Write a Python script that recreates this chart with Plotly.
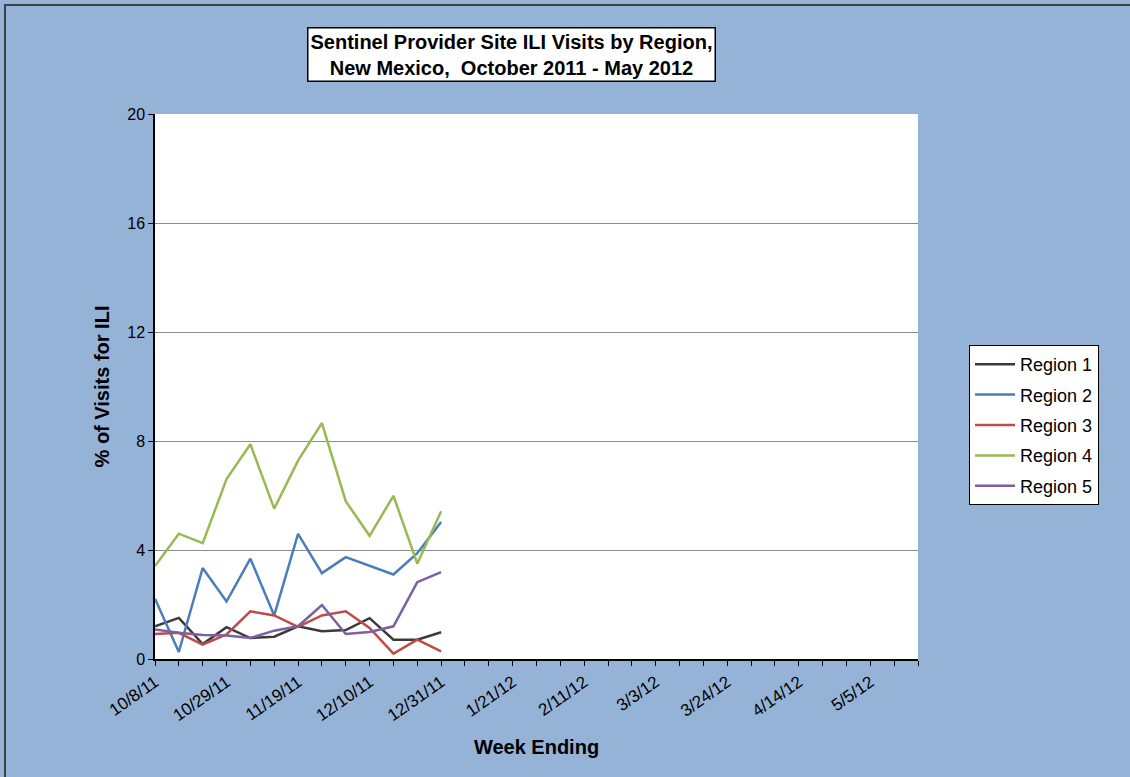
import plotly.graph_objects as go

weeks = ["10/8/11", "10/15/11", "10/22/11", "10/29/11", "11/5/11", "11/12/11", "11/19/11",
         "11/26/11", "12/3/11", "12/10/11", "12/17/11", "12/24/11", "12/31/11", "1/7/12",
         "1/14/12", "1/21/12", "1/28/12", "2/4/12", "2/11/12", "2/18/12", "2/25/12", "3/3/12",
         "3/10/12", "3/17/12", "3/24/12", "3/31/12", "4/7/12", "4/14/12", "4/21/12", "4/28/12",
         "5/5/12", "5/12/12", "5/19/12"]
labeled_weeks = ["10/8/11", "10/29/11", "11/19/11", "12/10/11", "12/31/11", "1/21/12",
                 "2/11/12", "3/3/12", "3/24/12", "4/14/12", "5/5/12"]

region1 = [1.20, 1.51, 0.55, 1.17, 0.77, 0.82, 1.20, 1.02, 1.06, 1.50, 0.71, 0.71, 0.98]
region2 = [2.21, 0.26, 3.34, 2.11, 3.68, 1.60, 4.59, 3.15, 3.74, 3.41, 3.10, 3.88, 5.03]
region3 = [0.92, 0.96, 0.53, 0.90, 1.75, 1.60, 1.18, 1.60, 1.75, 1.14, 0.20, 0.71, 0.28]
region4 = [3.41, 4.60, 4.25, 6.60, 7.88, 5.52, 7.28, 8.66, 5.79, 4.52, 5.99, 3.50, 5.42]
region5 = [1.08, 0.96, 0.88, 0.86, 0.77, 1.04, 1.20, 1.98, 0.92, 0.99, 1.20, 2.82, 3.19]

series = [("Region 1", region1, "#3a3a3a"),
          ("Region 2", region2, "#4A7EBB"),
          ("Region 3", region3, "#BE4B48"),
          ("Region 4", region4, "#98B954"),
          ("Region 5", region5, "#7D60A0")]

FONT = "Liberation Sans, Arial, sans-serif"

fig = go.Figure()
for name, vals, color in series:
    fig.add_trace(go.Scatter(x=weeks[:len(vals)], y=vals, mode="lines", name=name,
                             legendgroup=name,
                             line=dict(color=color, width=2.5)))

L, R, T, B = 155, 212, 114, 118
W, H = 1130, 777
pw, ph = W - L - R, H - T - B

def px_x(p):
    return (p - L) / pw

def px_y(p):
    return (H - B - p) / ph

fig.update_layout(
    width=W, height=H,
    margin=dict(l=L, r=R, t=T, b=B),
    paper_bgcolor="#95B3D7",
    plot_bgcolor="white",
    font=dict(family=FONT, color="black", size=16),
    showlegend=True,
    legend=dict(x=px_x(969), y=px_y(345), xanchor="left", yanchor="top",
                bgcolor="white", bordercolor="black", borderwidth=1,
                font=dict(size=18, family=FONT), tracegroupgap=4,
                itemwidth=40),
    xaxis=dict(type="category", categoryorder="array", categoryarray=weeks,
               range=[0, len(weeks) - 1],
               tickvals=weeks,
               ticktext=[w if w in labeled_weeks else "" for w in weeks],
               tickangle=-35, ticks="outside", ticklen=5, tickcolor="black",
               showline=True, linecolor="black", linewidth=1.5,
               showgrid=False, zeroline=False,
               tickfont=dict(size=17, family=FONT),
               title=dict(text="<b>Week Ending</b>", font=dict(size=20, family=FONT),
                          standoff=16)),
    yaxis=dict(range=[0, 20], tickvals=[0, 4, 8, 12, 16, 20],
               ticks="outside", ticklen=5, tickcolor="black",
               showline=True, linecolor="black", linewidth=1.5,
               showgrid=True, gridcolor="#8c8c8c", gridwidth=1,
               zeroline=False,
               tickfont=dict(size=16, family=FONT),
               title=dict(text="<b>% of Visits for ILI</b>", font=dict(size=20, family=FONT),
                          standoff=12)),
    shapes=[dict(type="rect", xref="paper", yref="paper",
                 x0=px_x(5), x1=px_x(W + 20), y0=px_y(H + 20), y1=px_y(5),
                 line=dict(color="#404040", width=2), fillcolor="rgba(0,0,0,0)",
                 layer="below")],
    annotations=[dict(text="<b>Sentinel Provider Site ILI Visits by Region,<br>New Mexico,  October 2011 - May 2012</b>",
                      xref="paper", yref="paper", x=px_x(511), y=px_y(55),
                      xanchor="center", yanchor="middle", showarrow=False,
                      font=dict(size=20, family=FONT, color="black"),
                      bgcolor="white", bordercolor="black", borderwidth=1.5,
                      borderpad=2)],
)

fig.write_html("out.html", config={"displayModeBar": False},
               post_script="document.body.style.margin='0';")
